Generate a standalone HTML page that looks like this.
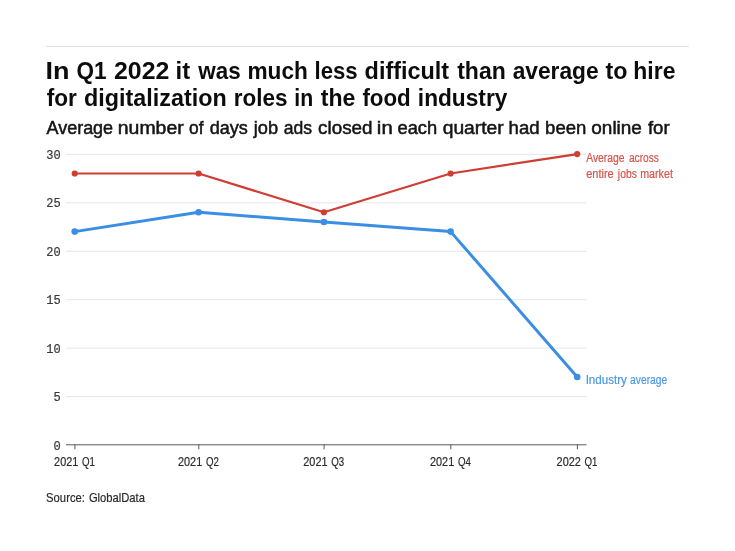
<!DOCTYPE html>
<html><head><meta charset="utf-8">
<style>
html,body{margin:0;padding:0;background:#fff;width:735px;height:551px;overflow:hidden}
svg{display:block;will-change:transform}
.t{font-family:"Liberation Sans",sans-serif;font-weight:bold;font-size:24px;fill:#0c0c0c}
.s{font-family:"Liberation Sans",sans-serif;font-size:18px;fill:#141414;stroke:#141414;stroke-width:0.5px}
.m{font-family:"Liberation Mono",monospace;font-size:12px;fill:#383838;stroke:#383838;stroke-width:0.2px}
.x{font-family:"Liberation Sans",sans-serif;font-size:12px;fill:#2a2a2a;stroke:#2a2a2a;stroke-width:0.2px}
.ar{font-family:"Liberation Sans",sans-serif;font-size:12px;fill:#d4534b;stroke:#d4534b;stroke-width:0.2px}
.ab{font-family:"Liberation Sans",sans-serif;font-size:12px;fill:#4d98e6;stroke:#4d98e6;stroke-width:0.2px}
.src{font-family:"Liberation Sans",sans-serif;font-size:13px;fill:#2a2a2a;stroke:#2a2a2a;stroke-width:0.2px}
</style></head>
<body>
<svg width="735" height="551" viewBox="0 0 735 551">
<rect x="46" y="45.9" width="643" height="1" fill="#e0e0e0"/>
<text class="t" x="45.58" y="79" textLength="23.97" lengthAdjust="spacingAndGlyphs">In</text>
<text class="t" x="76.50" y="79" textLength="30.03" lengthAdjust="spacingAndGlyphs">Q1</text>
<text class="t" x="114.00" y="79" textLength="55.36" lengthAdjust="spacingAndGlyphs">2022</text>
<text class="t" x="175.60" y="79" textLength="14.59" lengthAdjust="spacingAndGlyphs">it</text>
<text class="t" x="198.23" y="79" textLength="42.39" lengthAdjust="spacingAndGlyphs">was</text>
<text class="t" x="247.46" y="79" textLength="60.37" lengthAdjust="spacingAndGlyphs">much</text>
<text class="t" x="314.48" y="79" textLength="43.14" lengthAdjust="spacingAndGlyphs">less</text>
<text class="t" x="364.60" y="79" textLength="84.59" lengthAdjust="spacingAndGlyphs">difficult</text>
<text class="t" x="457.20" y="79" textLength="48.53" lengthAdjust="spacingAndGlyphs">than</text>
<text class="t" x="512.70" y="79" textLength="85.93" lengthAdjust="spacingAndGlyphs">average</text>
<text class="t" x="605.40" y="79" textLength="21.94" lengthAdjust="spacingAndGlyphs">to</text>
<text class="t" x="633.34" y="79" textLength="42.09" lengthAdjust="spacingAndGlyphs">hire</text>
<text class="t" x="46.70" y="106" textLength="30.12" lengthAdjust="spacingAndGlyphs">for</text>
<text class="t" x="84.10" y="106" textLength="142.64" lengthAdjust="spacingAndGlyphs">digitalization</text>
<text class="t" x="233.66" y="106" textLength="53.76" lengthAdjust="spacingAndGlyphs">roles</text>
<text class="t" x="294.32" y="106" textLength="18.87" lengthAdjust="spacingAndGlyphs">in</text>
<text class="t" x="320.80" y="106" textLength="34.63" lengthAdjust="spacingAndGlyphs">the</text>
<text class="t" x="362.40" y="106" textLength="48.31" lengthAdjust="spacingAndGlyphs">food</text>
<text class="t" x="417.85" y="106" textLength="89.53" lengthAdjust="spacingAndGlyphs">industry</text>
<text class="s" x="46.50" y="133.8" textLength="66.61" lengthAdjust="spacingAndGlyphs">Average</text>
<text class="s" x="117.82" y="133.8" textLength="65.87" lengthAdjust="spacingAndGlyphs">number</text>
<text class="s" x="189.10" y="133.8" textLength="14.44" lengthAdjust="spacingAndGlyphs">of</text>
<text class="s" x="209.80" y="133.8" textLength="38.10" lengthAdjust="spacingAndGlyphs">days</text>
<text class="s" x="253.81" y="133.8" textLength="24.30" lengthAdjust="spacingAndGlyphs">job</text>
<text class="s" x="283.80" y="133.8" textLength="28.30" lengthAdjust="spacingAndGlyphs">ads</text>
<text class="s" x="318.10" y="133.8" textLength="54.36" lengthAdjust="spacingAndGlyphs">closed</text>
<text class="s" x="376.87" y="133.8" textLength="15.88" lengthAdjust="spacingAndGlyphs">in</text>
<text class="s" x="397.50" y="133.8" textLength="39.73" lengthAdjust="spacingAndGlyphs">each</text>
<text class="s" x="442.70" y="133.8" textLength="60.99" lengthAdjust="spacingAndGlyphs">quarter</text>
<text class="s" x="508.57" y="133.8" textLength="30.97" lengthAdjust="spacingAndGlyphs">had</text>
<text class="s" x="545.07" y="133.8" textLength="41.27" lengthAdjust="spacingAndGlyphs">been</text>
<text class="s" x="591.30" y="133.8" textLength="50.61" lengthAdjust="spacingAndGlyphs">online</text>
<text class="s" x="647.90" y="133.8" textLength="21.69" lengthAdjust="spacingAndGlyphs">for</text>
<g fill="#e6e6e6">
<rect x="66" y="153.85" width="520.5" height="1"/>
<rect x="66" y="202.30" width="520.5" height="1"/>
<rect x="66" y="250.75" width="520.5" height="1"/>
<rect x="66" y="299.20" width="520.5" height="1"/>
<rect x="66" y="347.65" width="520.5" height="1"/>
<rect x="66" y="396.10" width="520.5" height="1"/>
</g>
<g class="m" text-anchor="end">
<text x="60.7" y="158.90">30</text>
<text x="60.7" y="207.35">25</text>
<text x="60.7" y="255.80">20</text>
<text x="60.7" y="304.25">15</text>
<text x="60.7" y="352.70">10</text>
<text x="60.7" y="401.15">5</text>
<text x="60.7" y="449.60">0</text>
</g>
<rect x="66" y="444.3" width="520.5" height="1" fill="#5a5a5a"/>
<g fill="#5a5a5a">
<rect x="74.40" y="444.3" width="1" height="5"/>
<rect x="198.30" y="444.3" width="1" height="5"/>
<rect x="323.60" y="444.3" width="1" height="5"/>
<rect x="450.30" y="444.3" width="1" height="5"/>
<rect x="576.90" y="444.3" width="1" height="5"/>
</g>
<text class="x" x="54.10" y="466.0" textLength="24.20" lengthAdjust="spacingAndGlyphs">2021</text>
<text class="x" x="82.00" y="466.0" textLength="12.94" lengthAdjust="spacingAndGlyphs">Q1</text>
<text class="x" x="178.00" y="466.0" textLength="24.20" lengthAdjust="spacingAndGlyphs">2021</text>
<text class="x" x="205.90" y="466.0" textLength="12.94" lengthAdjust="spacingAndGlyphs">Q2</text>
<text class="x" x="303.30" y="466.0" textLength="24.20" lengthAdjust="spacingAndGlyphs">2021</text>
<text class="x" x="331.20" y="466.0" textLength="12.94" lengthAdjust="spacingAndGlyphs">Q3</text>
<text class="x" x="430.00" y="466.0" textLength="24.20" lengthAdjust="spacingAndGlyphs">2021</text>
<text class="x" x="457.90" y="466.0" textLength="12.94" lengthAdjust="spacingAndGlyphs">Q4</text>
<text class="x" x="556.60" y="466.0" textLength="24.20" lengthAdjust="spacingAndGlyphs">2022</text>
<text class="x" x="584.50" y="466.0" textLength="12.94" lengthAdjust="spacingAndGlyphs">Q1</text>
<polyline fill="none" stroke="#cf3d33" stroke-width="2.2" stroke-linejoin="round" points="74.7,173.48 198.6,173.48 323.9,212.24 450.6,173.48 577.2,154.10"/>
<g fill="#cf3d33"><circle cx="74.7" cy="173.48" r="3.1"/><circle cx="198.6" cy="173.48" r="3.1"/><circle cx="323.9" cy="212.24" r="3.1"/><circle cx="450.6" cy="173.48" r="3.1"/><circle cx="577.2" cy="154.10" r="3.1"/></g>
<polyline fill="none" stroke="#3a8ee3" stroke-width="3" stroke-linejoin="round" points="74.7,231.62 198.6,212.24 323.9,221.93 450.6,231.62 577.2,376.97"/>
<g fill="#3a8ee3"><circle cx="74.7" cy="231.62" r="3.3"/><circle cx="198.6" cy="212.24" r="3.3"/><circle cx="323.9" cy="221.93" r="3.3"/><circle cx="450.6" cy="231.62" r="3.3"/><circle cx="577.2" cy="376.97" r="3.3"/></g>
<text class="ar" x="586.20" y="162.0" textLength="38.42" lengthAdjust="spacingAndGlyphs">Average</text>
<text class="ar" x="628.90" y="162.0" textLength="30.00" lengthAdjust="spacingAndGlyphs">across</text>
<text class="ar" x="586.20" y="177.6" textLength="27.50" lengthAdjust="spacingAndGlyphs">entire</text>
<text class="ar" x="617.86" y="177.6" textLength="18.94" lengthAdjust="spacingAndGlyphs">jobs</text>
<text class="ar" x="640.20" y="177.6" textLength="32.71" lengthAdjust="spacingAndGlyphs">market</text>
<text class="ab" x="585.63" y="384.0" textLength="41.27" lengthAdjust="spacingAndGlyphs">Industry</text>
<text class="ab" x="630.10" y="384.0" textLength="37.12" lengthAdjust="spacingAndGlyphs">average</text>
<text class="src" x="46.10" y="501.8" textLength="38.83" lengthAdjust="spacingAndGlyphs">Source:</text>
<text class="src" x="88.90" y="501.8" textLength="56.04" lengthAdjust="spacingAndGlyphs">GlobalData</text>
</svg>
</body></html>
